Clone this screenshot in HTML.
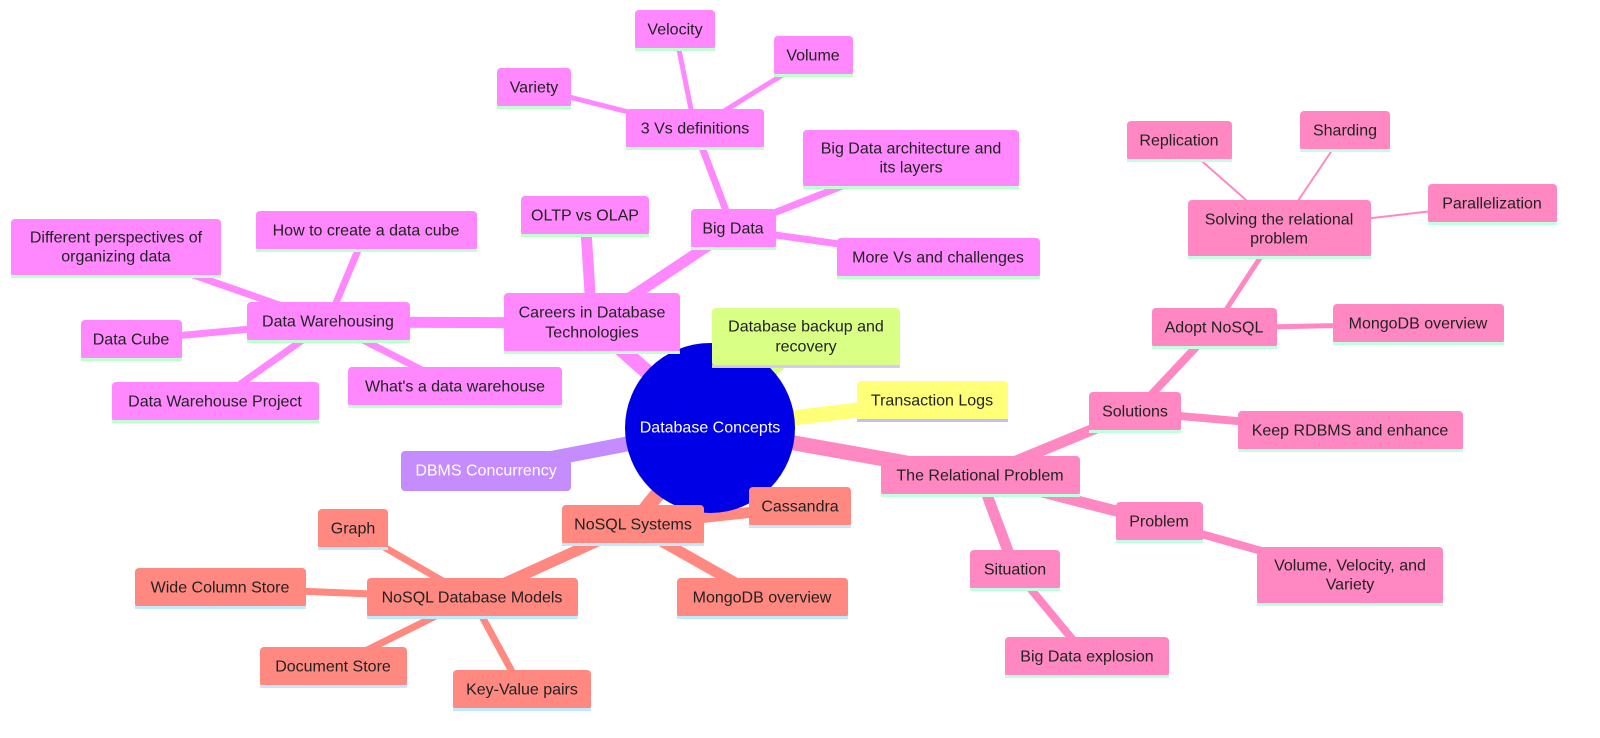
<!DOCTYPE html>
<html><head><meta charset="utf-8"><style>
html,body{margin:0;padding:0;background:#fff}
svg{display:block}
text{font-family:"Liberation Sans",sans-serif;font-size:16px;fill:#222;text-anchor:middle;dominant-baseline:central}
</style></head><body>
<svg width="1600" height="738" viewBox="0 0 1600 738">
<g stroke-linecap="round" fill="none">
<!-- magenta -->
<g stroke="#ff88ff">
<line x1="710" y1="428" x2="592" y2="323" stroke-width="15"/>
<line x1="592" y1="323" x2="585" y2="216" stroke-width="11"/>
<line x1="592" y1="323" x2="733" y2="229" stroke-width="11"/>
<line x1="592" y1="323" x2="328" y2="322" stroke-width="11"/>
<line x1="733" y1="229" x2="695" y2="129" stroke-width="7"/>
<line x1="733" y1="229" x2="911" y2="159" stroke-width="7"/>
<line x1="733" y1="229" x2="938" y2="258" stroke-width="7"/>
<line x1="695" y1="129" x2="534" y2="88" stroke-width="5"/>
<line x1="695" y1="129" x2="675" y2="30" stroke-width="5"/>
<line x1="695" y1="129" x2="813" y2="56" stroke-width="5"/>
<line x1="328" y1="322" x2="366" y2="231" stroke-width="7"/>
<line x1="328" y1="322" x2="116" y2="248" stroke-width="7"/>
<line x1="328" y1="322" x2="131" y2="340" stroke-width="7"/>
<line x1="328" y1="322" x2="215" y2="402" stroke-width="7"/>
<line x1="328" y1="322" x2="455" y2="387" stroke-width="7"/>
</g>
<line x1="710" y1="428" x2="806" y2="337" stroke="#d9ff85" stroke-width="15"/>
<line x1="710" y1="428" x2="932" y2="401" stroke="#ffff78" stroke-width="15"/>
<line x1="710" y1="428" x2="486" y2="471" stroke="#c58cff" stroke-width="15"/>
<!-- pink -->
<g stroke="#ff88c2">
<line x1="710" y1="428" x2="980" y2="476" stroke-width="15"/>
<line x1="980" y1="476" x2="1135" y2="412" stroke-width="11"/>
<line x1="980" y1="476" x2="1159" y2="522" stroke-width="11"/>
<line x1="980" y1="476" x2="1015" y2="570" stroke-width="11"/>
<line x1="1135" y1="412" x2="1214" y2="328" stroke-width="8"/>
<line x1="1135" y1="412" x2="1350" y2="431" stroke-width="8"/>
<line x1="1214" y1="328" x2="1279" y2="229" stroke-width="5"/>
<line x1="1214" y1="328" x2="1418" y2="324" stroke-width="5"/>
<line x1="1279" y1="229" x2="1179" y2="141" stroke-width="2"/>
<line x1="1279" y1="229" x2="1345" y2="131" stroke-width="2"/>
<line x1="1279" y1="229" x2="1492" y2="204" stroke-width="2"/>
<line x1="1159" y1="522" x2="1350" y2="576" stroke-width="8"/>
<line x1="1015" y1="570" x2="1087" y2="657" stroke-width="8"/>
</g>
<!-- salmon -->
<g stroke="#ff8880">
<line x1="710" y1="428" x2="633" y2="525" stroke-width="15"/>
<line x1="633" y1="525" x2="800" y2="507" stroke-width="11"/>
<line x1="633" y1="525" x2="762" y2="598" stroke-width="11"/>
<line x1="633" y1="525" x2="472" y2="598" stroke-width="11"/>
<line x1="472" y1="598" x2="353" y2="529" stroke-width="7"/>
<line x1="472" y1="598" x2="220" y2="588" stroke-width="7"/>
<line x1="472" y1="598" x2="333" y2="667" stroke-width="7"/>
<line x1="472" y1="598" x2="522" y2="690" stroke-width="7"/>
</g>
</g>
<circle cx="710" cy="428" r="85" fill="#0000e6"/>
<text x="710" y="428" style="fill:#fff">Database Concepts</text>

<!-- magenta nodes -->
<g fill="#ff88ff">
<rect x="504" y="293" width="176" height="60" rx="4"/>
<rect x="521" y="196" width="128" height="40" rx="4"/>
<rect x="691" y="209" width="85" height="40" rx="4"/>
<rect x="626" y="109" width="138" height="40" rx="4"/>
<rect x="497" y="68" width="74" height="40" rx="4"/>
<rect x="635" y="10" width="80" height="40" rx="4"/>
<rect x="774" y="36" width="79" height="40" rx="4"/>
<rect x="803" y="130" width="216" height="58" rx="4"/>
<rect x="837" y="238" width="203" height="40" rx="4"/>
<rect x="247" y="302" width="163" height="40" rx="4"/>
<rect x="256" y="211" width="221" height="40" rx="4"/>
<rect x="11" y="219" width="210" height="58" rx="4"/>
<rect x="81" y="320" width="101" height="40" rx="4"/>
<rect x="112" y="382" width="207" height="40" rx="4"/>
<rect x="348" y="367" width="214" height="40" rx="4"/>
</g>
<g fill="#c0ffd0">
<rect x="504" y="351" width="176" height="3"/>
<rect x="521" y="234" width="128" height="3"/>
<rect x="691" y="247" width="85" height="3"/>
<rect x="626" y="147" width="138" height="3"/>
<rect x="497" y="106" width="74" height="3"/>
<rect x="635" y="48" width="80" height="3"/>
<rect x="774" y="74" width="79" height="3"/>
<rect x="803" y="186" width="216" height="3"/>
<rect x="837" y="276" width="203" height="3"/>
<rect x="247" y="340" width="163" height="3"/>
<rect x="256" y="249" width="221" height="3"/>
<rect x="11" y="275" width="210" height="3"/>
<rect x="81" y="358" width="101" height="3"/>
<rect x="112" y="420" width="207" height="3"/>
<rect x="348" y="405" width="214" height="3"/>
</g>
<text x="592" y="313">Careers in Database</text><text x="592" y="333">Technologies</text>
<text x="585" y="216">OLTP vs OLAP</text>
<text x="733" y="229">Big Data</text>
<text x="695" y="129">3 Vs definitions</text>
<text x="534" y="88">Variety</text>
<text x="675" y="30">Velocity</text>
<text x="813" y="56">Volume</text>
<text x="911" y="149">Big Data architecture and</text><text x="911" y="168">its layers</text>
<text x="938" y="258">More Vs and challenges</text>
<text x="328" y="322">Data Warehousing</text>
<text x="366" y="231">How to create a data cube</text>
<text x="116" y="238">Different perspectives of</text><text x="116" y="257">organizing data</text>
<text x="131" y="340">Data Cube</text>
<text x="215" y="402">Data Warehouse Project</text>
<text x="455" y="387">What's a data warehouse</text>

<rect x="712" y="308" width="188" height="59" rx="4" fill="#d9ff85"/>
<rect x="712" y="365" width="188" height="3" fill="#d8c8ff"/>
<text x="806" y="327">Database backup and</text><text x="806" y="347">recovery</text>
<rect x="857" y="381" width="151" height="40" rx="4" fill="#ffff78"/>
<rect x="857" y="419" width="151" height="3" fill="#c0c0ff"/>
<text x="932" y="401">Transaction Logs</text>
<rect x="401" y="451" width="170" height="40" rx="4" fill="#c58cff"/>
<text x="486" y="471" style="fill:#fff">DBMS Concurrency</text>

<!-- pink nodes -->
<g fill="#ff88c2">
<rect x="881" y="456" width="199" height="40" rx="4"/>
<rect x="1089" y="392" width="92" height="40" rx="4"/>
<rect x="1152" y="308" width="125" height="40" rx="4"/>
<rect x="1188" y="200" width="183" height="58" rx="4"/>
<rect x="1127" y="121" width="105" height="40" rx="4"/>
<rect x="1300" y="111" width="90" height="40" rx="4"/>
<rect x="1428" y="184" width="129" height="40" rx="4"/>
<rect x="1333" y="304" width="171" height="40" rx="4"/>
<rect x="1238" y="411" width="225" height="40" rx="4"/>
<rect x="1116" y="502" width="87" height="40" rx="4"/>
<rect x="1257" y="547" width="186" height="58" rx="4"/>
<rect x="970" y="550" width="90" height="40" rx="4"/>
<rect x="1005" y="637" width="164" height="40" rx="4"/>
</g>
<g fill="#c0ffe0">
<rect x="881" y="494" width="199" height="3"/>
<rect x="1089" y="430" width="92" height="3"/>
<rect x="1152" y="346" width="125" height="3"/>
<rect x="1188" y="256" width="183" height="3"/>
<rect x="1127" y="159" width="105" height="3"/>
<rect x="1300" y="149" width="90" height="3"/>
<rect x="1428" y="222" width="129" height="3"/>
<rect x="1333" y="342" width="171" height="3"/>
<rect x="1238" y="449" width="225" height="3"/>
<rect x="1116" y="540" width="87" height="3"/>
<rect x="1257" y="603" width="186" height="3"/>
<rect x="970" y="588" width="90" height="3"/>
<rect x="1005" y="675" width="164" height="3"/>
</g>
<text x="980" y="476">The Relational Problem</text>
<text x="1135" y="412">Solutions</text>
<text x="1214" y="328">Adopt NoSQL</text>
<text x="1279" y="220">Solving the relational</text><text x="1279" y="239">problem</text>
<text x="1179" y="141">Replication</text>
<text x="1345" y="131">Sharding</text>
<text x="1492" y="204">Parallelization</text>
<text x="1418" y="324">MongoDB overview</text>
<text x="1350" y="431">Keep RDBMS and enhance</text>
<text x="1159" y="522">Problem</text>
<text x="1350" y="566">Volume, Velocity, and</text><text x="1350" y="585">Variety</text>
<text x="1015" y="570">Situation</text>
<text x="1087" y="657">Big Data explosion</text>

<!-- salmon nodes -->
<g fill="#ff8880">
<rect x="562" y="505" width="142" height="40" rx="4"/>
<rect x="749" y="487" width="102" height="40" rx="4"/>
<rect x="677" y="578" width="171" height="40" rx="4"/>
<rect x="367" y="578" width="211" height="40" rx="4"/>
<rect x="318" y="509" width="70" height="40" rx="4"/>
<rect x="135" y="568" width="171" height="40" rx="4"/>
<rect x="260" y="647" width="147" height="40" rx="4"/>
<rect x="453" y="670" width="138" height="40" rx="4"/>
</g>
<g fill="#c0e8ff">
<rect x="562" y="543" width="142" height="3"/>
<rect x="749" y="525" width="102" height="3"/>
<rect x="677" y="616" width="171" height="3"/>
<rect x="367" y="616" width="211" height="3"/>
<rect x="318" y="547" width="70" height="3"/>
<rect x="135" y="606" width="171" height="3"/>
<rect x="260" y="685" width="147" height="3"/>
<rect x="453" y="708" width="138" height="3"/>
</g>
<text x="633" y="525">NoSQL Systems</text>
<text x="800" y="507">Cassandra</text>
<text x="762" y="598">MongoDB overview</text>
<text x="472" y="598">NoSQL Database Models</text>
<text x="353" y="529">Graph</text>
<text x="220" y="588">Wide Column Store</text>
<text x="333" y="667">Document Store</text>
<text x="522" y="690">Key-Value pairs</text>
</svg>
</body></html>
